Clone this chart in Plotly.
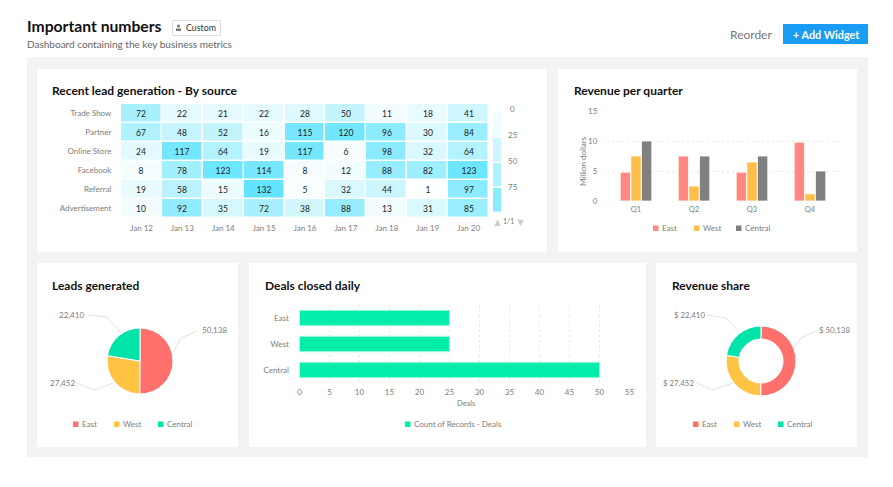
import plotly.graph_objects as go

W = 893
H = 487

# heatmap data
days = ["Jan 12", "Jan 13", "Jan 14", "Jan 15", "Jan 16", "Jan 17", "Jan 18", "Jan 19", "Jan 20"]
sources = ["Trade Show", "Partner", "Online Store", "Facebook", "Referral", "Advertisement"]
trade_show = [72, 22, 21, 22, 28, 50, 11, 18, 41]
partner = [67, 48, 52, 16, 115, 120, 96, 30, 84]
online_store = [24, 117, 64, 19, 117, 6, 98, 32, 64]
facebook = [8, 78, 123, 114, 8, 12, 88, 82, 123]
referral = [19, 58, 15, 132, 5, 32, 44, 1, 97]
advertisement = [10, 92, 35, 72, 38, 88, 13, 31, 85]
band_labels = [0, 25, 50, 75]
band_values = [16, 42, 65, 100]

# revenue per quarter
quarters = ["Q1", "Q2", "Q3", "Q4"]
rev_east = [4.8, 7.5, 4.8, 9.8]
rev_west = [7.5, 2.5, 6.5, 1.2]
rev_central = [10, 7.5, 7.5, 5]

# pies
regions = ["East", "West", "Central"]
share_values = [50138, 27452, 22410]

# deals
deal_regions = ["East", "West", "Central"]
deal_counts = [25, 25, 50]

RED = "#ff6f6b"
YELLOW = "#ffc444"
GREEN = "#00e3a9"
BAR_RED = "#ff8880"
BAR_YELLOW = "#ffbe4a"
BAR_GREY = "#808080"
DEAL_GREEN = "#00eeaa"
FONT = "Lato"
DARK = "#111111"
GREY = "#7d7d7d"
GRID = "#e6e6e6"
DOTS = "2px,3px"


def px(x):
    return x / W


def py(y):
    return 1 - y / H


def rect(x0, y0, x1, y1, fill, line=None):
    return dict(type="rect", xref="paper", yref="paper", x0=px(x0), x1=px(x1), y0=py(y0), y1=py(y1),
                fillcolor=fill, line=dict(color=line or fill, width=1 if line else 0), layer="below")


def label(x, y, text, size=8, color=GREY, anchor="left", angle=0, weight=None):
    font = dict(family=FONT, size=size, color=color)
    if weight:
        font["weight"] = weight
    # annotations keep 1px of padding, so pull the text back onto its edge
    shift = {"left": -1, "right": 1, "center": 0}[anchor]
    return dict(xref="paper", yref="paper", x=px(x), y=py(y), text=text, showarrow=False, xanchor=anchor,
                yanchor="middle", font=font, textangle=angle, borderpad=0, xshift=shift, yshift=0)


def elbow(points):
    path = "M " + " L ".join(f"{px(a):.5f},{py(b):.5f}" for a, b in points)
    return dict(type="path", xref="paper", yref="paper", path=path, line=dict(color="#e2e2e2", width=1), layer="below")


shapes = [
    rect(27, 57, 868, 457, "#f3f3f3"),
    rect(37, 69, 547, 252, "#ffffff"),
    rect(558, 69, 857, 252, "#ffffff"),
    rect(37, 263, 238, 447, "#ffffff"),
    rect(249, 263, 646, 447, "#ffffff"),
    rect(656, 263, 857, 447, "#ffffff"),
    rect(172.5, 20.5, 220.5, 35.5, "#ffffff", "#dddddd"),
    rect(783, 24, 868, 44, "#1a9cf4"),
    # person icon on the badge
    dict(type="circle", xref="paper", yref="paper", x0=px(177), x1=px(180), y0=py(24.5), y1=py(27.5),
         fillcolor="#777777", line=dict(width=0)),
    rect(176, 28.5, 181, 31, "#777777"),
]

annotations = [
    label(27, 26, "Important numbers", 15.7, DARK, weight=700),
    label(27, 44, "Dashboard containing the key business metrics", 10, "#666666"),
    label(186, 27.5, "Custom", 8.8, "#333333"),
    label(730, 34, "Reorder", 12, "#777777"),
    label(825.5, 34, "+ Add Widget", 10.8, "#ffffff", anchor="center", weight=700),
    label(52, 91, "Recent lead generation - By source", 12, DARK, weight=700),
    label(574, 91, "Revenue per quarter", 12, DARK, weight=700),
    label(52, 285, "Leads generated", 12, DARK, weight=700),
    label(265, 285, "Deals closed daily", 12, DARK, weight=700),
    label(672, 285, "Revenue share", 12, DARK, weight=700),
    label(583, 161, "Million dollars", 8, GREY, anchor="center", angle=-90),
    label(466, 403, "Deals", 7.5, GREY, anchor="center"),
    label(497, 221, "▲", 11, "#cccccc", anchor="center"),
    label(508, 221, "1/1", 7, GREY, anchor="center"),
    label(520, 221, "▼", 11, "#cccccc", anchor="center"),
]

# heatmap legend labels
for i, v in enumerate(band_labels):
    annotations.append(label(512.5, 109 + 26 * i, str(v), 8, GREY, anchor="center"))


# small legends under the charts
def add_legend(names, colors, xs, y):
    for name, color, x in zip(names, colors, xs):
        shapes.append(rect(x, y - 2.5, x + 5.5, y + 3, color))
        annotations.append(label(x + 9, y, name, 8, GREY))


add_legend(regions, [BAR_RED, BAR_YELLOW, BAR_GREY], [653, 694, 736], 228)
add_legend(regions, [RED, YELLOW, GREEN], [73, 114, 158], 424)
add_legend(regions, [RED, YELLOW, GREEN], [693, 734, 778], 424)
add_legend(["Count of Records - Deals"], [DEAL_GREEN], [405], 424)

# pie leader lines and their labels
pie_lines = [[(173, 352), (181, 338), (197, 331)], [(113, 383), (94, 390), (77, 383)], [(121, 333), (107, 317), (88, 315)]]
pie_ends = [(202, 330, "left"), (75, 383, "right"), (84, 315, "right")]
donut_lines = [[(794, 348), (801, 338), (818, 330)], [(733, 383), (713, 390), (697, 383)], [(739, 332), (726, 318), (707, 315)]]
donut_ends = [(819, 330, "left"), (694, 383, "right"), (705, 315, "right")]
for v, line, end in zip(share_values, pie_lines, pie_ends):
    shapes.append(elbow(line))
    annotations.append(label(end[0], end[1], f"{v:,}", 8, GREY, anchor=end[2]))
for v, line, end in zip(share_values, donut_lines, donut_ends):
    shapes.append(elbow(line))
    annotations.append(label(end[0], end[1], f"$ {v:,}", 7.8, GREY, anchor=end[2]))

fig = go.Figure()

# lead heatmap
fig.add_trace(go.Heatmap(
    x=days, y=sources,
    z=[trade_show, partner, online_store, facebook, referral, advertisement],
    zmin=0, zmax=132, colorscale=[[0, "#ffffff"], [1, "#62e4ff"]],
    showscale=False, xgap=1.5, ygap=1.5,
    texttemplate="%{z}", textfont=dict(family=FONT, size=8.5, color="#222222"),
    xaxis="x", yaxis="y",
))
# heatmap legend blocks
fig.add_trace(go.Heatmap(
    x=["band"], y=band_labels, z=[[v] for v in band_values],
    zmin=0, zmax=132, colorscale=[[0, "#ffffff"], [1, "#62e4ff"]],
    showscale=False, ygap=1.5, xaxis="x4", yaxis="y4",
))

# revenue bars
for name, values, color in [("East", rev_east, BAR_RED), ("West", rev_west, BAR_YELLOW), ("Central", rev_central, BAR_GREY)]:
    fig.add_trace(go.Bar(x=quarters, y=values, name=name, marker=dict(color=color, line=dict(color="#ffffff", width=0.8)),
                         showlegend=False, xaxis="x2", yaxis="y2"))

# deals bars
fig.add_trace(go.Bar(x=deal_counts, y=deal_regions, orientation="h", showlegend=False, width=0.6,
                     marker=dict(color=DEAL_GREEN, line=dict(color="#b8f8e4", width=1)), xaxis="x3", yaxis="y3"))

# pies
fig.add_trace(go.Pie(labels=regions, values=share_values, sort=False, direction="clockwise", textinfo="none",
                     marker=dict(colors=[RED, YELLOW, GREEN], line=dict(color="#ffffff", width=1)),
                     domain=dict(x=[px(107), px(173)], y=[py(394), py(328)]), showlegend=False))
fig.add_trace(go.Pie(labels=regions, values=share_values, sort=False, direction="clockwise", textinfo="none", hole=0.63,
                     marker=dict(colors=[RED, YELLOW, GREEN], line=dict(color="#ffffff", width=1)),
                     domain=dict(x=[px(726), px(796)], y=[py(396), py(326)]), showlegend=False))

tick = dict(family=FONT, size=8, color=GREY)
clear = "rgba(0,0,0,0)"

fig.update_layout(
    width=W, height=H,
    margin=dict(l=0, r=0, t=0, b=0, pad=0, autoexpand=False),
    paper_bgcolor="#ffffff", plot_bgcolor=clear,
    font=dict(family=FONT),
    shapes=shapes, annotations=annotations,
    barmode="group", bargap=0.45, bargroupgap=0.03,
    xaxis=dict(domain=[px(121), px(489)], tickfont=tick, showgrid=False, zeroline=False, anchor="y", side="bottom",
               ticks="outside", ticklen=2, tickcolor=clear),
    yaxis=dict(domain=[py(218), py(104)], tickfont=tick, showgrid=False, zeroline=False, autorange="reversed",
               ticks="outside", ticklen=7, tickcolor=clear, anchor="x"),
    xaxis2=dict(domain=[px(607), px(839)], tickfont=dict(family=FONT, size=7.5, color=GREY), showgrid=False, zeroline=False,
                anchor="y2", showline=False, ticks="outside", ticklen=1, tickcolor=clear),
    yaxis2=dict(domain=[py(201), py(111)], range=[0, 15], tickvals=[0, 5, 10, 15], tickfont=tick, gridcolor=GRID, griddash=DOTS,
                zeroline=False, anchor="x2", ticks="outside", ticklen=7, tickcolor=clear),
    xaxis3=dict(domain=[px(299.5), px(629.5)], range=[0, 55], tick0=0, dtick=5, tickfont=tick, gridcolor=GRID, griddash=DOTS,
                zeroline=False, anchor="y3", ticks="outside", ticklen=1, tickcolor=clear),
    yaxis3=dict(domain=[py(383), py(305)], tickfont=tick, autorange="reversed", showgrid=False, zeroline=False, anchor="x3",
                ticks="outside", ticklen=8, tickcolor=clear),
    xaxis4=dict(domain=[px(493), px(501)], visible=False, anchor="y4"),
    yaxis4=dict(domain=[py(213), py(113)], visible=False, autorange="reversed", anchor="x4"),
)

fig.write_html("out.html", config={"displayModeBar": False}, post_script="document.body.style.margin='0';")
